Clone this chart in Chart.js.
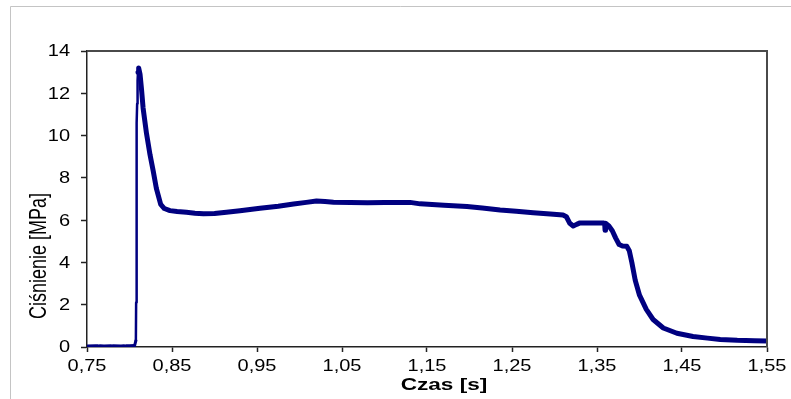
<!DOCTYPE html>
<html>
<head>
<meta charset="utf-8">
<script src="https://cdn.jsdelivr.net/npm/chart.js@4"></script>
<style>
html,body{margin:0;padding:0;background:#fff;}
canvas{display:block;}
</style>
</head>
<body>
<canvas id="c" width="791" height="399"></canvas>
<script>
// Time [s]
const time = [
  0.750, 0.760, 0.770, 0.780, 0.790, 0.800, 0.806, 0.8075,
  0.8078, 0.8081, 0.8084, 0.8087, 0.8090, 0.8095, 0.8100, 0.8108, 0.8124, 0.8141,
  0.8160, 0.8200, 0.8241, 0.8280, 0.8316, 0.8367, 0.841, 0.8476, 0.856, 0.867, 0.877,
  0.887, 0.900, 0.914, 0.930, 0.9535, 0.975, 0.993, 1.008, 1.020, 1.030, 1.040,
  1.060, 1.080, 1.100, 1.130, 1.142, 1.170, 1.197, 1.215, 1.236, 1.255, 1.275,
  1.295, 1.310, 1.314, 1.318, 1.322, 1.326, 1.330, 1.340, 1.350, 1.358, 1.359,
  1.3595, 1.360, 1.364, 1.368, 1.372, 1.376, 1.380, 1.385, 1.388, 1.391, 1.395,
  1.400, 1.408, 1.416, 1.428, 1.444, 1.463, 1.480, 1.495, 1.515, 1.535, 1.550
];
// Pressure [MPa]
const pressure = [
  0.05, 0.06, 0.05, 0.06, 0.05, 0.06, 0.07, 0.30,
  2.1, 5.9, 9.0, 10.6, 11.5, 12.6, 13.0, 13.2, 12.9, 12.2,
  11.3, 10.1, 9.1, 8.3, 7.5, 6.75, 6.55, 6.45, 6.41, 6.37, 6.33,
  6.30, 6.31, 6.37, 6.44, 6.56, 6.66, 6.76, 6.84, 6.91, 6.88, 6.85,
  6.83, 6.82, 6.83, 6.84, 6.77, 6.71, 6.64, 6.57, 6.48, 6.42, 6.35,
  6.29, 6.24, 6.16, 5.85, 5.72, 5.80, 5.87, 5.87, 5.87, 5.86, 5.85,
  5.52, 5.85, 5.72, 5.50, 5.15, 4.85, 4.78, 4.76, 4.55, 4.0, 3.15,
  2.45, 1.78, 1.30, 0.90, 0.65, 0.50, 0.42, 0.36, 0.32, 0.30, 0.28
];
const xTickValues = [0.75, 0.85, 0.95, 1.05, 1.15, 1.25, 1.35, 1.45, 1.55];
const yTickValues = [0, 2, 4, 6, 8, 10, 12, 14];
const xTitle = 'Czas [s]';
const yTitle = 'Ciśnienie [MPa]';

const points = time.map((t, i) => ({x: t, y: pressure[i]}));
const FONT = '"Liberation Sans", Arial, sans-serif';
const fmtX = v => v.toFixed(2).replace('.', ',');

// draws text stretched horizontally (the reference's text is wide)
function wideText(ctx, text, x, y, sx, align) {
  ctx.save();
  ctx.translate(x, y);
  ctx.scale(sx, 1);
  ctx.textAlign = align;
  ctx.fillText(text, 0, 0);
  ctx.restore();
}

const decor = {
  id: 'decor',
  beforeDraw(chart) {
    const ctx = chart.ctx;
    ctx.save();
    ctx.fillStyle = '#fff';
    ctx.fillRect(0, 0, chart.width, chart.height);
    ctx.strokeStyle = '#c4c4c4';
    ctx.lineWidth = 1;
    ctx.beginPath();
    ctx.moveTo(10.5, chart.height);
    ctx.lineTo(10.5, 6.5);
    ctx.lineTo(chart.width, 6.5);
    ctx.stroke();
    ctx.restore();
  },
  afterDraw(chart) {
    const ctx = chart.ctx;
    const a = chart.chartArea;
    const xs = chart.scales.x, ys = chart.scales.y;
    ctx.save();
    ctx.strokeStyle = '#4a4a4a';
    ctx.lineWidth = 2;
    ctx.beginPath();
    ctx.moveTo(a.left, a.top);
    ctx.lineTo(a.right, a.top);
    ctx.lineTo(a.right, a.bottom);
    ctx.stroke();

    ctx.fillStyle = '#000';
    // tick labels, placed by the library's scales
    ctx.font = '16px ' + FONT;
    ctx.textBaseline = 'alphabetic';
    xs.ticks.forEach(t => {
      wideText(ctx, fmtX(t.value), xs.getPixelForValue(t.value), a.bottom + 24, 1.25, 'center');
    });
    ctx.textBaseline = 'middle';
    ys.ticks.forEach(t => {
      wideText(ctx, String(t.value), a.left - 17, ys.getPixelForValue(t.value) + 1, 1.25, 'right');
    });

    // axis titles
    ctx.font = 'bold 17px ' + FONT;
    ctx.textBaseline = 'alphabetic';
    wideText(ctx, xTitle, 444, 390, 1.33, 'center');

    ctx.save();
    ctx.translate(40, 256);
    ctx.rotate(-Math.PI / 2);
    ctx.scale(1, 1.3);
    ctx.font = '18px ' + FONT;
    ctx.textAlign = 'center';
    ctx.textBaseline = 'middle';
    ctx.fillText(yTitle, 0, 0);
    ctx.restore();
    ctx.restore();
  }
};

new Chart(document.getElementById('c'), {
  type: 'line',
  data: {
    datasets: [{
      data: points,
      borderColor: '#000080',
      backgroundColor: '#000080',
      borderWidth: 4.5,
      borderJoinStyle: 'round',
      borderCapStyle: 'round',
      pointRadius: 0,
      tension: 0,
      fill: false,
      segment: {
        borderWidth: c => (c.p1.parsed.x <= 0.8075 ? 3 : (c.p1.parsed.x <= 0.8100 ? 2.5 : 5)),
        borderDash: c => (c.p1.parsed.x <= 0.806 ? [11, 2] : undefined)
      }
    }]
  },
  plugins: [decor],
  options: {
    responsive: false,
    animation: false,
    devicePixelRatio: 1,
    layout: {padding: {left: 0, top: 51, right: 24, bottom: 0}},
    plugins: {legend: {display: false}, tooltip: {enabled: false}},
    scales: {
      x: {
        type: 'linear',
        min: 0.75,
        max: 1.55,
        afterBuildTicks: s => { s.ticks = xTickValues.map(v => ({value: v})); },
        afterFit: s => { s.height = 52; },
        grid: {drawOnChartArea: false, drawTicks: true, tickLength: 5, tickColor: '#222', tickWidth: 1.5},
        border: {display: true, color: '#222', width: 1.5},
        ticks: {display: false, autoSkip: false}
      },
      y: {
        type: 'linear',
        min: 0,
        max: 14,
        afterBuildTicks: s => { s.ticks = yTickValues.map(v => ({value: v})); },
        afterFit: s => { s.width = 87; },
        grid: {drawOnChartArea: false, drawTicks: true, tickLength: 6, tickColor: '#222', tickWidth: 1.5},
        border: {display: true, color: '#222', width: 1.5},
        ticks: {display: false}
      }
    }
  }
});
</script>
</body>
</html>
